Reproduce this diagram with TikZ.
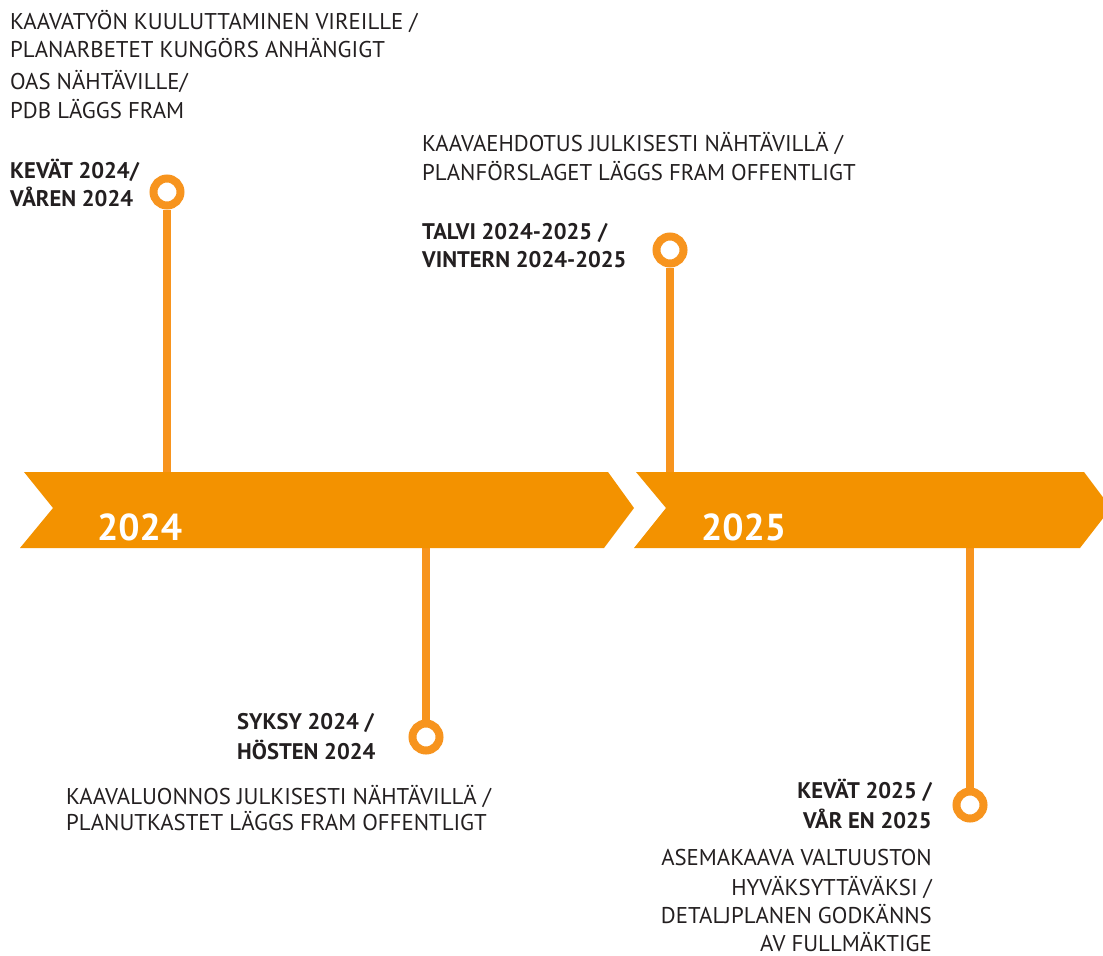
\documentclass[tikz,border=0pt]{standalone}
\usepackage{fontspec}
\setmainfont{PT Sans}
\begin{document}
\begin{tikzpicture}[x=1bp,y=-1bp,
  txt/.style={inner sep=0pt, text=ink, font=\fontsize{22.8bp}{26bp}\selectfont},
  btxt/.style={txt, font=\fontsize{22.6bp}{26bp}\selectfont\bfseries},
  yeartxt/.style={inner sep=0pt, text=white, font=\fontsize{37.5bp}{40bp}\selectfont\bfseries},
  stem/.style={draw=lineor, line width=8bp},
  ring/.style={circle, draw=lineor, line width=8bp, minimum size=27bp, inner sep=0pt, fill=white},
  band/.style={fill=baror, draw=none}]
\definecolor{baror}{HTML}{F39200}
\definecolor{lineor}{HTML}{F7941E}
\definecolor{ink}{HTML}{231F20}
\useasboundingbox (0,0) rectangle (1103,956);

% stems anchor points
\coordinate (s1) at (167,480);
\coordinate (s2) at (670,480);
\coordinate (s3) at (426,540);
\coordinate (s4) at (970,540);

% circles
\node[ring] (c1) at (167,192) {};
\node[ring] (c2) at (670,250) {};
\node[ring] (c3) at (426,737) {};
\node[ring] (c4) at (970,805) {};

\draw[stem] (c1.south) -- (s1);
\draw[stem] (c2.south) -- (s2);
\draw[stem] (s3) -- (c3.north);
\draw[stem] (s4) -- (c4.north);

% chevron bands
\fill[band] (24,472) -- (608,472) -- (634,508) -- (604,548) -- (20,548) -- (53,508) -- cycle;
\fill[band] (636,472) -- (1084,472) -- (1111,508) -- (1080,548) -- (634,548) -- (666,508) -- cycle;

\node[yeartxt, anchor=base west] (y24) at (97,540) {2024};
\node[yeartxt, anchor=base west] (y25) at (701,540) {2025};

% top-left texts
\node[txt, anchor=base west] (a1) at (10,29.3) {KAAVATYÖN KUULUTTAMINEN VIREILLE /};
\node[txt, anchor=base west] (a2) at (10,57.5) {PLANARBETET KUNGÖRS ANHÄNGIGT};
\node[txt, anchor=base west] (a3) at (10,89.3) {OAS NÄHTÄVILLE/};
\node[txt, anchor=base west] (a4) at (10,118.3) {PDB LÄGGS FRAM};
\node[btxt, anchor=base west] (a5) at (10,178.3) {KEVÄT 2024/};
\node[btxt, anchor=base west] (a6) at (10,206.7) {VÅREN 2024};

% top-middle texts
\node[txt, anchor=base west] (b1) at (422,151.7) {KAAVAEHDOTUS JULKISESTI NÄHTÄVILLÄ /};
\node[txt, anchor=base west] (b2) at (422,180) {PLANFÖRSLAGET LÄGGS FRAM OFFENTLIGT};
\node[btxt, anchor=base west] (b3) at (422,239) {TALVI 2024-2025 /};
\node[btxt, anchor=base west] (b4) at (422,267.7) {VINTERN 2024-2025};

% bottom-left texts
\node[btxt, anchor=base west] (c1a) at (237,729.3) {SYKSY 2024 /};
\node[btxt, anchor=base west] (c1b) at (237,759) {HÖSTEN 2024};
\node[txt, anchor=base west] (c1c) at (66,804) {KAAVALUONNOS JULKISESTI NÄHTÄVILLÄ /};
\node[txt, anchor=base west] (c1d) at (66,830.7) {PLANUTKASTET LÄGGS FRAM OFFENTLIGT};

% bottom-right texts
\node[btxt, anchor=base east] (d1) at (932,798.3) {KEVÄT 2025 /};
\node[btxt, anchor=base east] (d2) at (932,828.3) {VÅR EN 2025};
\node[txt, anchor=base east] (d3) at (932,865.7) {ASEMAKAAVA VALTUUSTON};
\node[txt, anchor=base east] (d4) at (932,895.5) {HYVÄKSYTTÄVÄKSI /};
\node[txt, anchor=base east] (d5) at (932,923.5) {DETALJPLANEN GODKÄNNS};
\node[txt, anchor=base east, text depth=0pt] (d6) at (932,951.5) {AV FULLMÄKTIGE};
\end{tikzpicture}
\end{document}
